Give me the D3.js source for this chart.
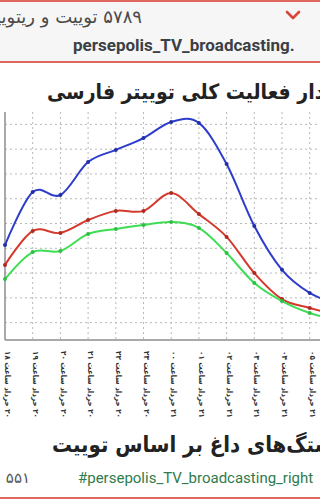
<!DOCTYPE html>
<html>
<head>
<meta charset="utf-8">
<script src="https://cdn.jsdelivr.net/npm/d3@7"></script>
<style>
  html, body { margin: 0; padding: 0; background: #fff; overflow: hidden; }
  svg { display: block; }
</style>
</head>
<body>
<script>
"use strict";

// x categories (hour of day), last one is mostly off screen
let hours = ["۲۰ خرداد ساعت ۱۸", "۲۰ خرداد ساعت ۱۹", "۲۰ خرداد ساعت ۲۰", "۲۰ خرداد ساعت ۲۱",
    "۲۰ خرداد ساعت ۲۲", "۲۰ خرداد ساعت ۲۳", "۲۱ خرداد ساعت ۰۰", "۲۱ خرداد ساعت ۰۱",
    "۲۱ خرداد ساعت ۰۲", "۲۱ خرداد ساعت ۰۳", "۲۱ خرداد ساعت ۰۴", "۲۱ خرداد ساعت ۰۵",
    "۲۱ خرداد ساعت ۰۶"];

let blueValues = [4130, 6270, 6150, 7480, 7970, 8450, 9100, 9060, 7400, 4900, 3130, 2200, 1750];
let redValues = [3330, 4700, 4620, 5140, 5510, 5510, 6230, 5380, 4460, 3000, 1950, 1590, 1310];
let greenValues = [2760, 3850, 3890, 4580, 4780, 4940, 5060, 4820, 3810, 2600, 1870, 1390, 1110];

let yTicks = [1000, 2000, 3000, 4000, 5000, 6000, 7000, 8000, 9000];

let width = 320,
    height = 500;

let plotLeft = 5,
    plotRight = 320,
    plotTop = 112,
    plotBottom = 340;

let faFont = "DejaVu Sans Condensed, DejaVu Sans, sans-serif";

let svg = d3.select("body")
    .append("svg")
    .attr("width", width)
    .attr("height", height);

// header card
svg.append("rect")
    .attr("x", 0).attr("y", 0)
    .attr("width", width).attr("height", 62)
    .attr("fill", "#f6f6f6");

svg.append("line")
    .attr("x1", 0).attr("x2", width)
    .attr("y1", 1).attr("y2", 1)
    .attr("stroke", "#e0675d").attr("stroke-width", 2);

svg.append("line")
    .attr("x1", 0).attr("x2", width)
    .attr("y1", 62).attr("y2", 62)
    .attr("stroke", "#e0675d").attr("stroke-width", 2);

svg.append("line")
    .attr("x1", 0).attr("x2", width)
    .attr("y1", 498).attr("y2", 498)
    .attr("stroke", "#e0675d").attr("stroke-width", 2);

// chevron
svg.append("path")
    .attr("d", "M287,12 L293,18 L299,12")
    .attr("fill", "none")
    .attr("stroke", "#d9473c")
    .attr("stroke-width", 2.6)
    .attr("stroke-linecap", "round")
    .attr("stroke-linejoin", "round");

svg.append("text")
    .attr("x", 142).attr("y", 23)
    .attr("direction", "rtl")
    .attr("text-anchor", "start")
    .attr("font-family", "DejaVu Sans, sans-serif")
    .attr("font-size", 18)
    .attr("fill", "#4a4a4a")
    .text("۵۷۸۹ توییت و ریتوییت");

svg.append("text")
    .attr("x", 73).attr("y", 51)
    .attr("font-family", "Roboto, sans-serif")
    .attr("font-weight", "bold")
    .attr("font-size", 17)
    .attr("fill", "#3b4045")
    .text("persepolis_TV_broadcasting.");

// chart title
svg.append("text")
    .attr("x", 47).attr("y", 99)
    .attr("direction", "rtl")
    .attr("text-anchor", "end")
    .attr("font-family", faFont)
    .attr("font-weight", "bold")
    .attr("font-size", 21)
    .attr("fill", "#222")
    .text("نمودار فعالیت کلی توییتر فارسی");

// scales
let x = d3.scalePoint()
    .domain(hours)
    .range([plotLeft, plotLeft + 27.7 * (hours.length - 1)]);

let y = d3.scaleLinear()
    .domain([300, 9500])
    .range([plotBottom, plotTop]);

let chart = svg.append("g").attr("class", "chart");

// grid
chart.selectAll("line.grid-y")
    .data(yTicks)
    .enter().append("line")
    .attr("class", "grid-y")
    .attr("x1", plotLeft).attr("x2", plotRight)
    .attr("y1", d => y(d)).attr("y2", d => y(d))
    .attr("stroke", "#b8b8b8")
    .attr("stroke-width", 1)
    .attr("stroke-dasharray", "2,3");

chart.selectAll("line.grid-x")
    .data(hours.slice(1))
    .enter().append("line")
    .attr("class", "grid-x")
    .attr("x1", d => x(d)).attr("x2", d => x(d))
    .attr("y1", plotTop).attr("y2", plotBottom)
    .attr("stroke", "#b8b8b8")
    .attr("stroke-width", 1)
    .attr("stroke-dasharray", "2,3");

// axes
chart.append("line")
    .attr("x1", plotLeft).attr("x2", plotLeft)
    .attr("y1", plotTop).attr("y2", plotBottom)
    .attr("stroke", "#8c8c8c").attr("stroke-width", 1.5);

chart.append("line")
    .attr("x1", plotLeft).attr("x2", plotRight)
    .attr("y1", plotBottom).attr("y2", plotBottom)
    .attr("stroke", "#8c8c8c").attr("stroke-width", 1.5);

// series
let series = [
    { color: "#2e3ccc", dot: "#2230a8", values: blueValues },
    { color: "#d3392c", dot: "#b02a20", values: redValues },
    { color: "#3fdc55", dot: "#2fbf45", values: greenValues }
];

let line = d3.line()
    .x((d, i) => x(hours[i]))
    .y(d => y(d))
    .curve(d3.curveCardinal);

let lines = chart.selectAll("g.series")
    .data(series)
    .enter().append("g")
    .attr("class", "series");

lines.append("path")
    .attr("d", d => line(d.values))
    .attr("fill", "none")
    .attr("stroke", d => d.color)
    .attr("stroke-width", 2);

lines.each(function (s) {
    d3.select(this).selectAll("circle")
        .data(s.values)
        .enter().append("circle")
        .attr("cx", (d, i) => x(hours[i]))
        .attr("cy", d => y(d))
        .attr("r", 2)
        .attr("fill", s.dot);
});

// x labels, rotated (the last one falls outside the picture)
chart.selectAll("text.xlabel")
    .data(hours.slice(0, 12))
    .enter().append("text")
    .attr("class", "xlabel")
    .attr("transform", d => "translate(" + (x(d) + 3) + "," + 351 + ") rotate(90)")
    .attr("direction", "rtl")
    .attr("text-anchor", "end")
    .attr("dy", "0.35em")
    .attr("font-family", faFont)
    .attr("font-weight", "bold")
    .attr("font-size", 8)
    .attr("fill", "#333")
    .text(d => d);

// bottom section
svg.append("text")
    .attr("x", 52).attr("y", 452)
    .attr("direction", "rtl")
    .attr("text-anchor", "end")
    .attr("font-family", faFont)
    .attr("font-weight", "bold")
    .attr("font-size", 22)
    .attr("fill", "#222")
    .text("هشتگ‌های داغ بر اساس توییت");

svg.append("text")
    .attr("x", 78).attr("y", 483)
    .attr("font-family", "Roboto, sans-serif")
    .attr("font-size", 15)
    .attr("fill", "#2e7b4c")
    .text("#persepolis_TV_broadcasting_right");

svg.append("text")
    .attr("x", 30).attr("y", 483)
    .attr("direction", "rtl")
    .attr("text-anchor", "start")
    .attr("font-family", "DejaVu Sans, sans-serif")
    .attr("font-size", 15)
    .attr("fill", "#555")
    .text("۵۵۱");
</script>
</body>
</html>
